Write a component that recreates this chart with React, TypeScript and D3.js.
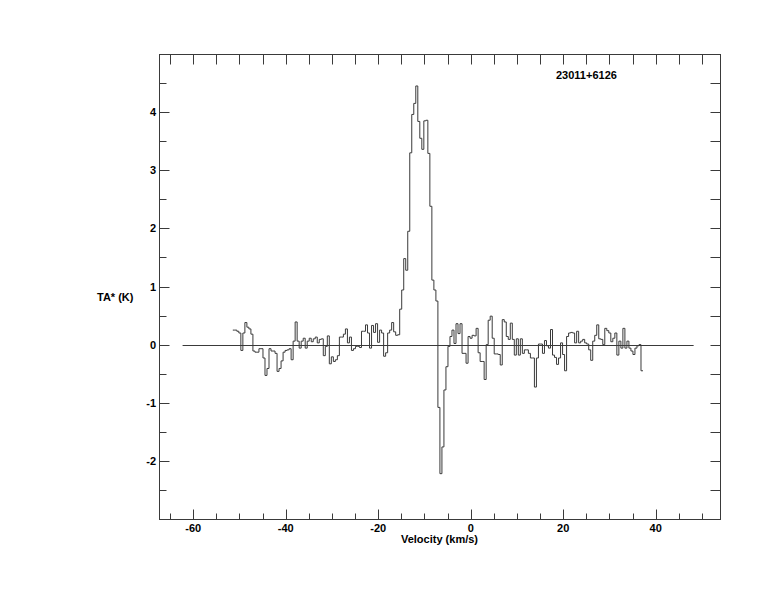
import React from "react";
import * as d3 from "d3";

// Spectrum: antenna temperature per channel (K)
const CHANNEL_VALUES: number[] = [
  0.25, 0.25, 0.23, 0.2, -0.1, 0.2, 0.38, 0.3, 0.27, 0.18,
  -0.11, -0.13, -0.13, -0.07, -0.07, -0.23, -0.53, -0.41, -0.07, -0.11,
  -0.11, -0.15, -0.46, -0.41, -0.28, -0.13, -0.1, -0.09, -0.07, -0.26,
  0.06, 0.39, 0.06, -0.06, 0.06, 0.11, -0.06, 0.06, 0.11, 0.05,
  0.1, 0.13, 0.03, 0.09, 0.1, -0.19, -0.03, 0.15, -0.33, -0.21,
  -0.29, -0.26, -0.19, 0.13, 0.13, 0.18, 0.27, 0.03, 0.13, -0.1,
  -0.07, -0.03, -0.03, -0.05, 0.23, 0.23, 0.34, 0.2, -0.06, 0.33,
  0.21, 0.36, 0.04, 0.25, 0.2,
  -0.2, -0.14, 0.2, 0.25, 0.38, 0.22, 0.16, 0.17,
  0.61, 0.94, 1.48, 1.28, 1.95, 3.3, 3.96, 4.15, 4.45, 3.84,
  3.55, 3.36, 3.85, 3.86, 3.29, 2.38, 1.11, 0.94, 0.75, -1.08,
  -2.22, -1.76, -0.78, -0.38, -0.03, 0.14, 0.25, 0.02, 0.36, 0.19,
  0.36, -0.15, -0.15, -0.32, 0.14, 0.11, 0.16, 0.15, 0.28,
  -0.14, -0.29, -0.29, -0.6, 0.0, 0.42, 0.49, 0.11, -0.16, -0.16,
  -0.17, -0.35, 0.43, 0.39, 0.14, 0.09, 0.37, 0.09, -0.18, 0.1,
  -0.18, 0.1, -0.15, -0.09, -0.09, -0.15, -0.23, -0.23, -0.73, -0.23,
  0.01, 0.01, -0.15, 0.07, -0.02,
  -0.06, 0.26, -0.18, -0.22, -0.34, -0.23, 0.03, -0.17, -0.45, 0.14,
  0.2, 0.21, 0.2, 0.03, 0.23, 0.03, 0.06, 0.09, 0.03, 0.01,
  -0.09, -0.27, 0.06, 0.16, 0.34, 0.1, 0.09, 0.0, 0.28, 0.24,
  0.2, 0.05, 0.11, 0.2, -0.18, 0.06, -0.06, 0.28, -0.06, 0.06,
  -0.06, -0.11, -0.17, -0.06, -0.02, 0.0, -0.45,
];
const VELOCITY_START = -51.44; // km/s, left edge of first channel
const VELOCITY_END = 37.25; // km/s, right edge of last channel
const BASELINE_RANGE = [-62.3, 48.2];

const X_DOMAIN: [number, number] = [-67.4, 53.9];
const Y_DOMAIN: [number, number] = [-3, 5];
const X_MAJOR = [-60, -40, -20, 0, 20, 40];
const X_MINOR = [-65, -60, -55, -50, -45, -40, -35, -30, -25, -20, -15, -10, -5, 0, 5, 10, 15, 20, 25, 30, 35, 40, 45, 50];
const Y_MAJOR = [-2, -1, 0, 1, 2, 3, 4];
const Y_MINOR = [-2.5, -2, -1.5, -1, -0.5, 0, 0.5, 1, 1.5, 2, 2.5, 3, 3.5, 4, 4.5];

const SOURCE_NAME = "23011+6126";
const X_LABEL = "Velocity (km/s)";
const Y_LABEL = "TA* (K)";

export default function App() {
  const W = 774, H = 612;
  const left = 159, right = 720, top = 54, bottom = 519;
  const x = d3.scaleLinear().domain(X_DOMAIN).range([left, right]);
  const y = d3.scaleLinear().domain(Y_DOMAIN).range([bottom, top]);

  const n = CHANNEL_VALUES.length;
  const dv = (VELOCITY_END - VELOCITY_START) / n;
  const pts: [number, number][] = CHANNEL_VALUES.map((v, i) => [VELOCITY_START + i * dv, v]);
  pts.push([VELOCITY_END, CHANNEL_VALUES[n - 1]]);
  const line = d3
    .line<[number, number]>()
    .x((d) => x(d[0]))
    .y((d) => y(d[1]))
    .curve(d3.curveStepAfter);

  const stroke = "#3a3a3a";
  const font = "'Liberation Sans', Arial, Helvetica, sans-serif";
  const isMajorX = (t: number) => X_MAJOR.includes(t);
  const isMajorY = (t: number) => Y_MAJOR.includes(t);

  return (
    <div style={{ position: "absolute", left: 0, top: 0, width: W, height: H, background: "#fff" }}>
      <svg width={W} height={H} style={{ display: "block" }} fontFamily={font}>
        <rect x={0} y={0} width={W} height={H} fill="#fff" />
        {/* frame */}
        <rect x={left + 0.5} y={top + 0.5} width={right - left} height={bottom - top} fill="none" stroke={stroke} strokeWidth={1} />
        {/* bottom ticks */}
        {X_MINOR.map((t) => (
          <line key={"bx" + t} x1={Math.round(x(t)) + 0.5} x2={Math.round(x(t)) + 0.5} y1={bottom + 0.5} y2={bottom + 0.5 - (isMajorX(t) ? 10 : 6)} stroke={stroke} />
        ))}
        {/* top ticks */}
        {X_MINOR.map((t) => (
          <line key={"tx" + t} x1={Math.round(x(t)) + 0.5} x2={Math.round(x(t)) + 0.5} y1={top + 0.5} y2={top + 0.5 + 10} stroke={stroke} />
        ))}
        {/* left ticks */}
        {Y_MINOR.map((t) => (
          <line key={"ly" + t} y1={Math.round(y(t)) + 0.5} y2={Math.round(y(t)) + 0.5} x1={left + 0.5} x2={left + 0.5 + (isMajorY(t) ? 10 : 7)} stroke={stroke} />
        ))}
        {/* right ticks */}
        {Y_MINOR.map((t) => (
          <line key={"ry" + t} y1={Math.round(y(t)) + 0.5} y2={Math.round(y(t)) + 0.5} x1={right + 0.5} x2={right + 0.5 - 10} stroke={stroke} />
        ))}
        {/* x tick labels */}
        {X_MAJOR.map((t) => (
          <text key={"xl" + t} x={x(t)} y={bottom + 13} textAnchor="middle" fontSize={11} fontWeight="bold" fill="#000">
            {t}
          </text>
        ))}
        {/* y tick labels */}
        {Y_MAJOR.map((t) => (
          <text key={"yl" + t} x={left - 3} y={y(t) + 4} textAnchor="end" fontSize={11} fontWeight="bold" fill="#000">
            {t}
          </text>
        ))}
        {/* baseline */}
        <line x1={x(BASELINE_RANGE[0])} x2={x(BASELINE_RANGE[1])} y1={Math.round(y(0)) + 0.5} y2={Math.round(y(0)) + 0.5} stroke={stroke} />
        {/* spectrum */}
        <path d={line(pts) || ""} fill="none" stroke={stroke} strokeWidth={1} />
        {/* labels */}
        <text x={(left + right) / 2} y={bottom + 24} textAnchor="middle" fontSize={11} fontWeight="bold" fill="#000">
          {X_LABEL}
        </text>
        <text x={97} y={301} fontSize={11} fontWeight="bold" fill="#000">
          {Y_LABEL}
        </text>
        <text x={556} y={79} fontSize={11} fontWeight="bold" fill="#000">
          {SOURCE_NAME}
        </text>
      </svg>
    </div>
  );
}
